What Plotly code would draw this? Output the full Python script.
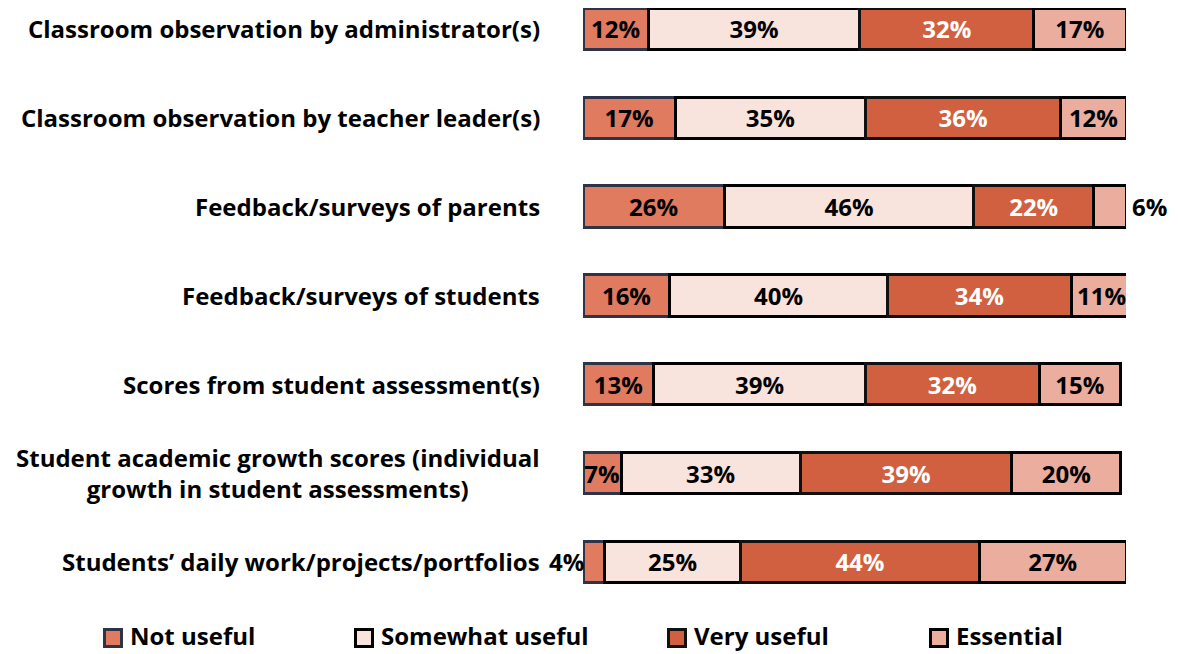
import plotly.graph_objects as go

categories = [
    "Classroom observation by administrator(s)",
    "Classroom observation by teacher leader(s)",
    "Feedback/surveys of parents",
    "Feedback/surveys of students",
    "Scores from student assessment(s)",
    "Student academic growth scores (individual<br>growth in student assessments)",
    "Students\u2019 daily work/projects/portfolios",
]
series_names = ["Not useful", "Somewhat useful", "Very useful", "Essential"]
not_useful = [12, 17, 26, 16, 13, 7, 4]
somewhat_useful = [39, 35, 46, 40, 39, 33, 25]
very_useful = [32, 36, 22, 34, 32, 39, 44]
essential = [17, 12, 6, 11, 15, 20, 27]

values = [not_useful, somewhat_useful, very_useful, essential]
fills = ["#E07B5F", "#F9E3DD", "#D06040", "#EBAE9E"]
borders = ["#2F3348", "#000000", "#111111", "#000000"]
text_colors = ["#000000", "#000000", "#FFFFFF", "#000000"]
FONT = "Open Sans"
SMALL = 6  # values at or below this are labelled outside the bar

# layout geometry (figure pixels)
W, H = 1178, 654
ML, MR, MT, MB = 575, 60, 0, 62
PW, PH = W - ML - MR, H - MT - MB
LEG_X = [95, 346, 659, 921]   # left edge of each legend swatch
LEG_Y = 630                   # vertical centre of legend swatches
LEG_TY = 627                  # vertical centre of legend text
SW = 20                       # swatch size


def paper_x(p):
    return (p - ML) / PW


def paper_y(p):
    return (H - MB - p) / PH


ypos = list(range(len(categories)))
fig = go.Figure()
for name, vals, fc, bc, tc in zip(series_names, values, fills, borders, text_colors):
    fig.add_trace(go.Bar(
        name=name, y=ypos, x=vals, orientation="h",
        marker=dict(color=fc, line=dict(color=bc, width=3)),
        width=0.465,
        text=[f"{v}%" if v > SMALL else "" for v in vals],
        textposition="inside", insidetextanchor="middle", textangle=0,
        textfont=dict(family=FONT, size=24, color=tc, weight="bold"),
        hoverinfo="skip", showlegend=False,
    ))

annotations = []
for i, v in enumerate(essential):
    if v <= SMALL:
        total = not_useful[i] + somewhat_useful[i] + very_useful[i] + v
        annotations.append(dict(x=total, y=i, xref="x", yref="y", text=f"{v}%",
                                showarrow=False, xanchor="left", xshift=4,
                                font=dict(family=FONT, size=24, color="#000", weight="bold")))
for i, v in enumerate(not_useful):
    if v <= SMALL:
        annotations.append(dict(x=0, y=i, xref="x", yref="y", text=f"{v}%",
                                showarrow=False, xanchor="right", xshift=3,
                                font=dict(family=FONT, size=24, color="#000", weight="bold")))
for i, c in enumerate(categories):
    annotations.append(dict(x=0, y=i, xref="paper", yref="y", text=c, showarrow=False,
                            xanchor="right", align="center", xshift=-41,
                            font=dict(family=FONT, size=24, color="#000", weight="bold")))

# legend drawn manually so that item spacing matches
shapes = []
for name, fc, bc, lx in zip(series_names, fills, borders, LEG_X):
    shapes.append(dict(type="rect", xref="paper", yref="paper",
                       x0=paper_x(lx + 1.5), x1=paper_x(lx + SW - 1.5),
                       y0=paper_y(LEG_Y - SW / 2 + 1.5), y1=paper_y(LEG_Y + SW / 2 - 1.5),
                       fillcolor=fc, line=dict(color=bc, width=3)))
    annotations.append(dict(x=paper_x(lx + SW + 5), y=paper_y(LEG_TY), xref="paper", yref="paper",
                            text=name, showarrow=False, xanchor="left", yanchor="middle",
                            font=dict(family=FONT, size=24, color="#000", weight="bold")))

fig.update_layout(
    barmode="stack",
    width=W, height=H,
    margin=dict(l=ML, r=MR, t=MT, b=MB, autoexpand=False),
    plot_bgcolor="white", paper_bgcolor="white",
    xaxis=dict(range=[0, 100], visible=False),
    yaxis=dict(range=[6.428, -0.236], visible=False),
    uniformtext=dict(minsize=24, mode="show"),
    annotations=annotations,
    shapes=shapes,
    showlegend=False,
)
fig.write_html("out.html")
